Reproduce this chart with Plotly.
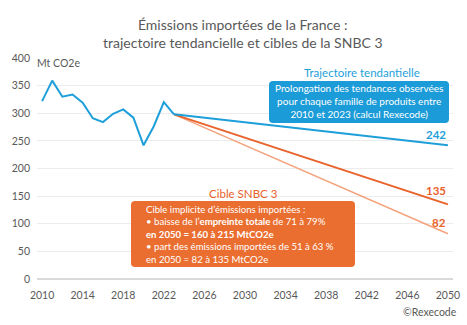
import plotly.graph_objects as go

# Historical imported emissions (Mt CO2e)
hist_years = [2010, 2011, 2012, 2013, 2014, 2015, 2016, 2017, 2018, 2019, 2020, 2021, 2022, 2023]
hist_values = [322, 359, 330, 334, 319, 291, 284, 299, 307, 292, 242, 276, 320, 298]

# Projections 2023 -> 2050
proj_years = [2023, 2050]
trend_values = [298, 242]
snbc_high_values = [298, 135]
snbc_low_values = [298, 82]

x_ticks = list(range(2010, 2051, 4))
y_ticks = [0, 50, 100, 150, 200, 250, 300, 350, 400]

BLUE = "#1E9FDA"
BOX_BLUE = "#1B9BD7"
ORANGE = "#E8622B"
LIGHT_ORANGE = "#F3A27C"
BOX_ORANGE = "#EA6E30"
GRAY = "#595959"
FONT = "Lato"

fig = go.Figure()
fig.add_trace(go.Scatter(x=proj_years, y=snbc_low_values, mode="lines",
                         line=dict(color=LIGHT_ORANGE, width=1.5), hoverinfo="skip"))
fig.add_trace(go.Scatter(x=proj_years, y=snbc_high_values, mode="lines",
                         line=dict(color=ORANGE, width=2), hoverinfo="skip"))
fig.add_trace(go.Scatter(x=proj_years, y=trend_values, mode="lines",
                         line=dict(color=BLUE, width=2), hoverinfo="skip"))
fig.add_trace(go.Scatter(x=hist_years, y=hist_values, mode="lines",
                         line=dict(color=BLUE, width=2), hoverinfo="skip"))

# plot area in pixels
L, R, T, B = 37, 14, 58, 46
W, H = 467, 325
PW, PH = W - L - R, H - T - B


def px(x):
    return (x - L) / PW


def py(y):
    return (H - B - y) / PH


def rounded_rect(x0, y0, x1, y1, r=4):
    rx, ry = r / PW, r / PH
    X0, X1 = px(x0), px(x1)
    Yt, Yb = py(y0), py(y1)
    return (f"M {X0+rx},{Yt} L {X1-rx},{Yt} Q {X1},{Yt} {X1},{Yt-ry} "
            f"L {X1},{Yb+ry} Q {X1},{Yb} {X1-rx},{Yb} L {X0+rx},{Yb} "
            f"Q {X0},{Yb} {X0},{Yb+ry} L {X0},{Yt-ry} Q {X0},{Yt} {X0+rx},{Yt} Z")


shapes = [
    dict(type="path", xref="paper", yref="paper", path=rounded_rect(269, 81, 449, 123),
         fillcolor=BOX_BLUE, line=dict(width=0), layer="above"),
    dict(type="path", xref="paper", yref="paper", path=rounded_rect(131, 201, 355, 267),
         fillcolor=BOX_ORANGE, line=dict(width=0), layer="above"),
]

annotations = [
    dict(text="Mt CO2e", xref="paper", yref="paper", x=px(35), y=py(63),
         xanchor="left", yanchor="middle", showarrow=False,
         font=dict(family=FONT, size=10.5, color=GRAY)),
    dict(text="Trajectoire tendantielle", xref="paper", yref="paper", x=px(362), y=py(72),
         xanchor="center", yanchor="middle", showarrow=False,
         font=dict(family=FONT, size=11.5, color=BLUE)),
    dict(text="Prolongation des tendances observées<br>pour chaque famille de produits entre<br>2010 et 2023 (calcul Rexecode)",
         xref="paper", yref="paper", x=px(359), y=py(101), xanchor="center", yanchor="middle",
         showarrow=False, align="center", font=dict(family=FONT, size=10, color="white")),
    dict(text="Cible SNBC 3", xref="paper", yref="paper", x=px(243), y=py(193),
         xanchor="center", yanchor="middle", showarrow=False,
         font=dict(family=FONT, size=11.5, color=ORANGE)),
    dict(text="Cible implicite d’émissions importées :<br>• baisse de l’<b>empreinte totale</b> de 71 à 79%<br>"
              "<b>en 2050 = 160 à 215 MtCO2e</b><br>• part des émissions importées de 51 à 63 %<br>en 2050 = 82 à 135 MtCO2e",
         xref="paper", yref="paper", x=px(144), y=py(234), xanchor="left", yanchor="middle",
         showarrow=False, align="left", font=dict(family=FONT, size=9.6, color="white")),
    dict(text="<b>%d</b>" % trend_values[-1], x=proj_years[-1], y=trend_values[-1], xref="x", yref="y",
         xanchor="right", yanchor="bottom", yshift=2, showarrow=False,
         font=dict(family=FONT, size=11.5, color=BLUE)),
    dict(text="<b>%d</b>" % snbc_high_values[-1], x=proj_years[-1], y=snbc_high_values[-1], xref="x", yref="y",
         xanchor="right", yanchor="bottom", yshift=5, showarrow=False,
         font=dict(family=FONT, size=11.5, color=ORANGE)),
    dict(text="<b>%d</b>" % snbc_low_values[-1], x=proj_years[-1], y=snbc_low_values[-1], xref="x", yref="y",
         xanchor="right", yanchor="bottom", yshift=3, showarrow=False,
         font=dict(family=FONT, size=11.5, color=ORANGE)),
    dict(text="©Rexecode", xref="paper", yref="paper", x=px(459), y=py(312),
         xanchor="right", yanchor="middle", showarrow=False,
         font=dict(family=FONT, size=10.5, color=GRAY)),
    dict(text="Émissions importées de la France :<br>trajectoire tendancielle et cibles de la SNBC 3",
         xref="paper", yref="paper", x=px(243), y=py(33.5), xanchor="center", yanchor="middle",
         showarrow=False, align="center", font=dict(family=FONT, size=14, color=GRAY)),
]

fig.update_layout(
    width=W, height=H,
    margin=dict(l=L, r=R, t=T, b=B, autoexpand=False),
    paper_bgcolor="white", plot_bgcolor="white",
    showlegend=False,
    font=dict(family=FONT, color=GRAY, size=11),
    xaxis=dict(range=[2009.5, 2050.5], tickmode="array", tickvals=x_ticks,
               ticktext=[str(v) for v in x_ticks], showgrid=False, zeroline=False,
               showline=False, ticks="", tickfont=dict(size=10.5, color=GRAY), fixedrange=True,
               automargin=False, ticklabelstandoff=8),
    yaxis=dict(range=[0, 400], tickmode="array", tickvals=y_ticks, showgrid=True,
               gridcolor="#ECECEC", gridwidth=1, zeroline=True, zerolinecolor="#D9D9D9",
               zerolinewidth=2, showline=False, ticks="", tickfont=dict(size=10.5, color=GRAY),
               fixedrange=True, automargin=False, ticklabelstandoff=6),
    shapes=shapes,
    annotations=annotations,
)

fig.write_html("out.html", config={"displayModeBar": False})
